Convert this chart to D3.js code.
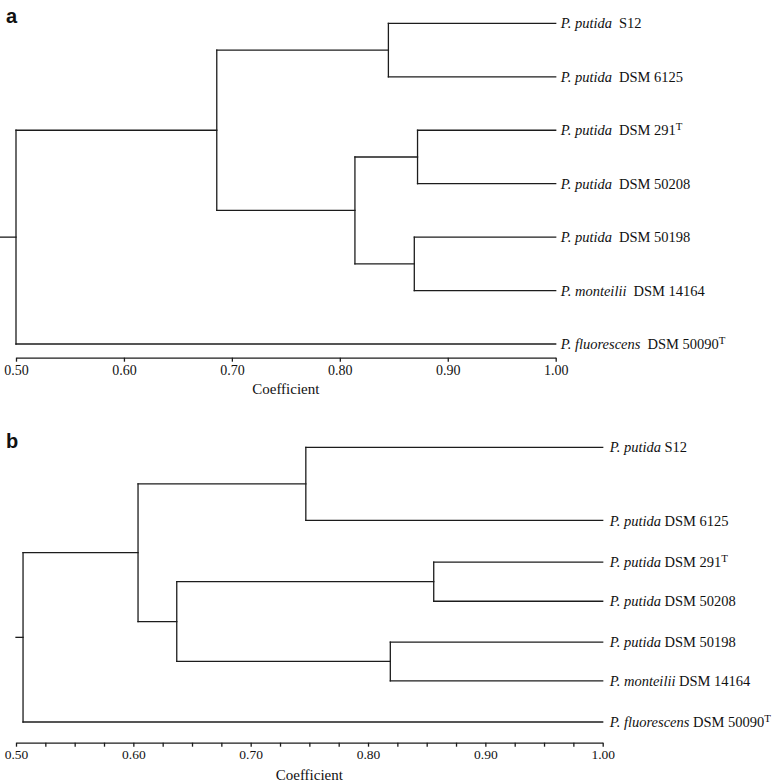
<!DOCTYPE html>
<html><head><meta charset="utf-8">
<script src="https://cdn.jsdelivr.net/npm/d3@7"></script>
<style>
html,body{margin:0;padding:0;background:#fff;}
svg{display:block;}
</style></head>
<body>
<script>
// ---- data ----
const species = ["P. putida","P. putida","P. putida","P. putida","P. putida","P. monteilii","P. fluorescens"];
const strains = ["S12","DSM 6125","DSM 291","DSM 50208","DSM 50198","DSM 14164","DSM 50090"];
const typeStrain = [false,false,true,false,false,false,true];
// linkage: [childA, childB, coefficient]; leaves 0..6, clusters 7..
const mergesA = [[0,1,0.845],[2,3,0.872],[4,5,0.869],[8,9,0.814],[7,10,0.686],[11,6,0.500]];
const mergesB = [[0,1,0.747],[2,3,0.856],[4,5,0.819],[8,9,0.637],[7,10,0.604],[11,6,0.506]];
// leaf row positions (in row units)
const rowsA = [0,1,2,3,4,5,6];
const rowsB = [0,1.83,2.87,3.85,4.87,5.84,6.87];
const majorTicks = [0.50,0.60,0.70,0.80,0.90,1.00];
const minorTicksB = [0.525,0.55,0.575,0.625,0.65,0.675,0.725,0.75,0.775,0.825,0.85,0.875,0.925,0.95,0.975];
const axisTitle = "Coefficient";

const W=777,H=783;
const SERIF="'Liberation Serif', 'Times New Roman', Times, serif";
const SANS="'Liberation Sans', Arial, Helvetica, sans-serif";
const svg=d3.select("body").append("svg").attr("width",W).attr("height",H);
const ink="#1c1c1c";

function panel(cfg){
  const g=svg.append("g");
  const x=d3.scaleLinear().domain([0.5,1.0]).range(cfg.xr);
  const y=d3.scaleLinear().domain([0,d3.max(cfg.rows)]).range(cfg.yr);
  const n=species.length;
  const nodes=[];
  for(let i=0;i<n;i++) nodes.push({x:x(1.0),y:y(cfg.rows[i])});
  const segs=[];
  cfg.merges.forEach(([a,b,c])=>{
    const A=nodes[a],B=nodes[b],xc=x(c);
    segs.push([A.x,A.y,xc,A.y],[B.x,B.y,xc,B.y],[xc,A.y,xc,B.y]);
    nodes.push({x:xc,y:(A.y+B.y)/2});
  });
  const root=nodes[nodes.length-1];
  segs.push([cfg.stubX,root.y,root.x,root.y]);
  g.selectAll("line.br").data(segs).join("line").attr("class","br")
    .attr("x1",d=>d[0]).attr("y1",d=>d[1]).attr("x2",d=>d[2]).attr("y2",d=>d[3])
    .attr("stroke",ink).attr("stroke-width",1.3).attr("stroke-linecap","square");
  // labels
  const lab=g.selectAll("text.leaf").data(d3.range(n)).join("text").attr("class","leaf")
    .attr("x",x(1.0)+cfg.labelGap).attr("y",i=>y(cfg.rows[i])).attr("dy","0.35em")
    .style("font-family",SERIF).style("font-size",cfg.fs+"px").attr("fill","#111");
  lab.append("tspan").style("font-style","italic").text(i=>species[i]);
  lab.append("tspan").attr("dx",cfg.sp).text(i=>strains[i]);
  lab.filter(i=>typeStrain[i]).append("tspan").attr("dy","-0.45em").style("font-size",(cfg.fs*0.75)+"px").text("T");
  // axis
  const ax=g.append("g").attr("transform",`translate(0,${cfg.axisY})`)
    .call(d3.axisBottom(x).tickValues(majorTicks).tickFormat(d3.format(".2f")).tickSize(4).tickSizeOuter(0).tickPadding(3));
  ax.attr("font-family",null).attr("font-size",null);
  ax.select(".domain").attr("stroke",ink).attr("stroke-width",1.3);
  ax.selectAll(".tick line").attr("stroke",ink).attr("stroke-width",1.3);
  ax.selectAll(".tick text").style("font-family",SERIF).style("font-size",cfg.tfs+"px").attr("fill","#111");
  if(cfg.minor){
    const mx=g.append("g").attr("transform",`translate(0,${cfg.axisY})`)
      .call(d3.axisBottom(x).tickValues(cfg.minor).tickFormat("").tickSize(4).tickSizeOuter(0));
    mx.select(".domain").remove();
    mx.selectAll(".tick line").attr("stroke",ink).attr("stroke-width",1.3);
  }
  g.append("text").attr("x",(cfg.xr[0]+cfg.xr[1])/2).attr("y",cfg.titleY).attr("text-anchor","middle")
    .style("font-family",SERIF).style("font-size","15px").attr("fill","#111").text(axisTitle);
  g.append("text").attr("x",6).attr("y",cfg.letterY).style("font-family",SANS)
    .style("font-weight","bold").style("font-size","20px").attr("fill","#111").text(cfg.letter);
}

panel({letter:"a",letterY:23,xr:[16,555.7],yr:[23.4,344],rows:rowsA,merges:mergesA,stubX:0,
  labelGap:5,fs:14.5,sp:7,tfs:14,axisY:357.7,titleY:394,minor:null});
panel({letter:"b",letterY:448,xr:[16,602.7],yr:[447.3,722],rows:rowsB,merges:mergesB,stubX:16,
  labelGap:7,fs:14.5,sp:3.5,tfs:13.5,axisY:742.7,titleY:780,minor:minorTicksB});
</script>
</body></html>
